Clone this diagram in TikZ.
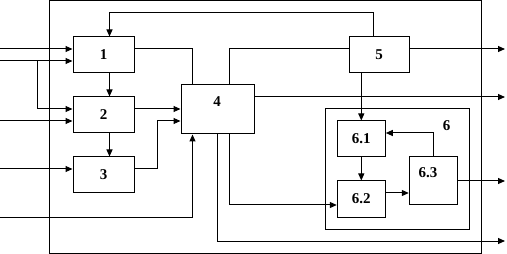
\documentclass[tikz,border=0pt]{standalone}
\usepackage{fontspec}
\setmainfont{Liberation Serif}
\usetikzlibrary{arrows.meta,calc}
\begin{document}
\begin{tikzpicture}[x=1pt,y=-1pt,line width=1pt,
  blk/.style={draw,minimum width=#1,inner sep=0pt,font=\fontsize{15}{17}\selectfont\bfseries},
  lab/.style={inner sep=0pt,font=\fontsize{15}{17}\selectfont\bfseries},
  arr/.style={-{Triangle[length=7pt,width=6pt]}}]
\useasboundingbox (0,0) rectangle (507,254);
\draw (49,1) rectangle (481.7,253);
\node[blk=61pt,minimum height=36pt] (b1) at (103.5,55) {1};
\node[blk=61pt,minimum height=36pt] (b2) at (103.5,115) {2};
\node[blk=61pt,minimum height=36pt] (b3) at (103.5,175) {3};
\node[blk=73pt,minimum height=49pt] (b4) at (217.5,109.5) {};
\node[lab] (l4) at (217,102) {4};
\node[blk=60pt,minimum height=36pt] (b5) at (379,55) {5};
\node[blk=144pt,minimum height=120pt] (b6) at (397.7,169) {};
\node[lab] (l6) at (446.7,126) {6};
\node[blk=48pt,minimum height=36pt] (b61) at (361.3,139) {6.1};
\node[blk=48pt,minimum height=36pt] (b62) at (361.3,199) {6.2};
\node[blk=48pt,minimum height=48pt] (b63) at (433.3,181) {};
\node[lab] (l63) at (428,173) {6.3};
\coordinate (i1) at (0,49);
\coordinate (i2) at (0,61);
\coordinate (j) at (37,61);
\coordinate (i3) at (0,121);
\coordinate (i4) at (0,169);
\coordinate (i5) at (0,217);
\coordinate (o1) at (505,49);
\coordinate (o2) at (505,97);
\coordinate (o3) at (505,181);
\coordinate (o4) at (505,241);
% inputs
\draw[arr] (i1) -- (i1 -| b1.west);
\draw[arr] (i2) -- (i2 -| b1.west);
\draw[arr] (j) |- ($(b2.west)+(0,-6)$);
\draw[arr] (i3) -- (i3 -| b2.west);
\draw[arr] (i4) -- (i4 -| b3.west);
\draw[arr] (i5) -| ($(b4.south west)+(12,0)$);
% internal
\draw ($(b1.east)+(0,-6)$) -| ($(b4.north west)+(12,0)$);
\draw[arr] ($(b1.south)+(6,0)$) -- ($(b2.north)+(6,0)$);
\draw[arr] ($(b2.south)+(6,0)$) -- ($(b3.north)+(6,0)$);
\draw[arr] ($(b2.east)+(0,-6)$) -- ($(b4.west)+(0,-0.5)$);
\draw[arr] ($(b3.east)+(0,-6)$) -- (157,169) |- ($(b4.west)+(0,11.5)$);
\draw[arr] ($(b5.north)+(-6,0)$) -- ++(0,-24) -| ($(b1.north)+(6,0)$);
\draw ($(b4.north)+(11.5,0)$) |- ($(b5.west)+(0,-6)$);
\draw[arr] ($(b5.east)+(0,-6)$) -- (o1);
\draw[arr] ($(b4.east)+(0,-12.5)$) -- (o2);
\draw[arr] (b61.north |- b5.south) -- (b61.north);
\draw[arr] ($(b4.south)+(11.5,0)$) |- ($(b62.west)+(0,6)$);
\draw[arr] (b4.south) |- (o4);
\draw[arr] (b61.south) -- (b62.north);
\draw[arr] ($(b62.east)+(0,-6)$) -- ($(b63.west)+(0,12)$);
\draw[arr] (b63.north) |- ($(b61.east)+(0,-6)$);
\draw[arr] (b63.east) -- (o3);
\end{tikzpicture}
\end{document}
